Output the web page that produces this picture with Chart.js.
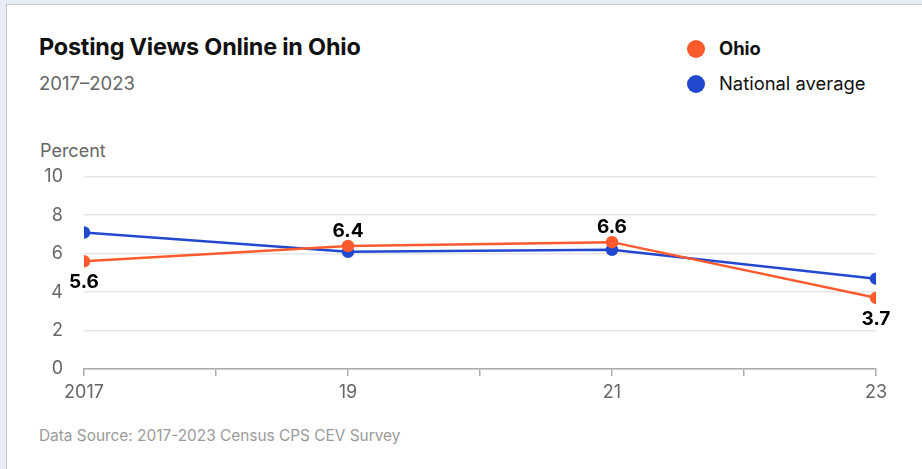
<!DOCTYPE html>
<html>
<head>
<meta charset="utf-8">
<script src="https://cdn.jsdelivr.net/npm/chart.js@4.4.1/dist/chart.umd.min.js"></script>
<style>
  body { margin: 0; width: 922px; height: 469px; background: #e9edf8; overflow: hidden; font-family: Inter, "Noto Sans", sans-serif; position: relative; }
  .card { position: absolute; left: 6px; top: 4px; width: 960px; height: 500px; background: #fff; border: 1px solid #c6c8cc; }
  .title { position: absolute; left: 39px; top: 32px; font-size: 23.4px; font-weight: 700; color: #111; letter-spacing: -0.2px; }
  .sub { position: absolute; left: 39px; top: 72px; font-size: 18.5px; color: #666; }
  .legend { position: absolute; left: 687px; font-size: 18.4px; color: #111; }
  .legend span.dot { display: inline-block; width: 18px; height: 18px; border-radius: 50%; vertical-align: -3px; margin-right: 14px; }
  .ylab { position: absolute; left: 40px; top: 140px; font-size: 18px; color: #666; }
  .source { position: absolute; left: 39px; top: 426px; font-size: 15.4px; color: #9a9a9a; }
  #wrap { position: absolute; left: 0; top: 145px; width: 922px; height: 260px; }
</style>
</head>
<body>
<div class="card"></div>
<div class="title">Posting Views Online in Ohio</div>
<div class="sub">2017–2023</div>
<div class="legend" style="top:37px"><span class="dot" style="background:#ff5a2e"></span><b>Ohio</b></div>
<div class="legend" style="top:72px"><span class="dot" style="background:#2148cf"></span>National average</div>
<div class="ylab">Percent</div>
<div class="source">Data Source: 2017-2023 Census CPS CEV Survey</div>
<div id="wrap"><canvas id="line-chart"></canvas></div>
<script>
var years = [2017, 2019, 2021, 2023];
var ohio = [5.6, 6.4, 6.6, 3.7];
var national = [7.1, 6.1, 6.2, 4.7];
var tickYears = [2017, 2019, 2021, 2023];
var tickLabels = ['2017', '19', '21', '23'];

var ORANGE = '#ff5a2e';
var BLUE = '#2148cf';
var FONT = 'Inter, "Noto Sans", sans-serif';

function points(vals) {
  return years.map(function (y, i) { return { x: y, y: vals[i] }; });
}

/* value labels on the Ohio line: below when under the national line, above otherwise */
var valueLabels = {
  id: 'valueLabels',
  afterDatasetsDraw: function (chart) {
    var ctx = chart.ctx;
    var meta = chart.getDatasetMeta(0);
    ctx.save();
    ctx.font = '700 19px ' + FONT;
    ctx.fillStyle = '#000';
    ctx.textAlign = 'center';
    ctx.textBaseline = 'middle';
    meta.data.forEach(function (pt, i) {
      var below = ohio[i] < national[i];
      ctx.fillText(ohio[i].toFixed(1), pt.x, below ? pt.y + 21 : pt.y - 15);
    });
    ctx.restore();
  }
};

new Chart(document.getElementById('line-chart'), {
  type: 'line',
  data: {
    datasets: [
      {
        label: 'Ohio',
        data: points(ohio),
        borderColor: ORANGE,
        backgroundColor: ORANGE,
        borderWidth: 2.5,
        pointRadius: 5,
        pointHoverRadius: 5,
        fill: false
      },
      {
        label: 'National average',
        data: points(national),
        borderColor: BLUE,
        backgroundColor: BLUE,
        borderWidth: 2.5,
        pointRadius: 5,
        pointHoverRadius: 5,
        fill: false
      }
    ]
  },
  options: {
    responsive: true,
    maintainAspectRatio: false,
    animation: false,
    layout: { padding: { left: 0, right: 46, top: 6, bottom: 0 } },
    plugins: { legend: { display: false }, tooltip: { enabled: false } },
    scales: {
      x: {
        type: 'linear',
        min: 2017,
        max: 2023,
        ticks: {
          stepSize: 1,
          autoSkip: false,
          maxRotation: 0,
          color: '#666',
          font: { size: 18, family: FONT },
          padding: 6,
          callback: function (v) {
            var k = tickYears.indexOf(v);
            return k >= 0 ? tickLabels[k] : '';
          }
        },
        grid: { drawOnChartArea: false, tickLength: 7, color: '#aaa', lineWidth: 1.5 },
        border: { color: '#aaa', width: 1.5 },
        afterFit: function (s) { s.height = 36; }
      },
      y: {
        min: 0,
        max: 10,
        ticks: {
          stepSize: 2,
          color: '#666',
          font: { size: 18, family: FONT },
          padding: 21
        },
        grid: { color: '#e6e6e6', lineWidth: 1.5, drawTicks: false },
        border: { display: false },
        afterFit: function (s) { s.width = 84; }
      }
    }
  },
  plugins: [valueLabels]
});
</script>
</body>
</html>
